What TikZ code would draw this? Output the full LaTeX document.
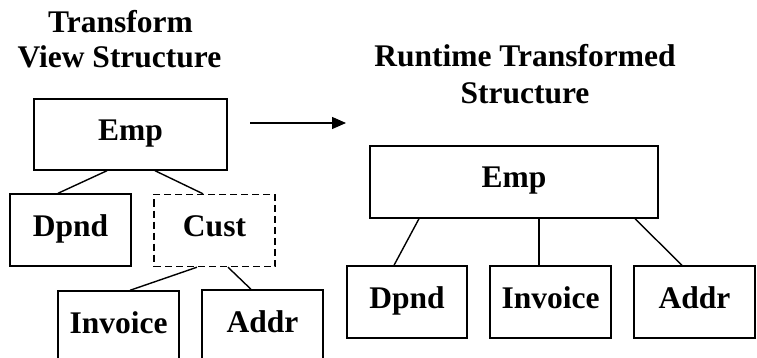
\documentclass[tikz,border=0pt]{standalone}
\usepackage{fontspec}
\setmainfont{Liberation Serif}
\usetikzlibrary{arrows.meta}
\begin{document}
\begin{tikzpicture}[x=1pt,y=-1pt,
  every node/.style={font=\fontsize{31.5}{35}\selectfont\bfseries},
  ent/.style={draw=black, line width=1.4pt, rectangle, inner sep=0pt,
    minimum height=72pt, text height=21pt, text depth=9pt},
  ttl/.style={anchor=base, inner sep=0pt},
  link/.style={line width=1.4pt}]
\useasboundingbox (0,0) rectangle (757,358);
\clip (0,0) rectangle (757,358);
% titles
\node[ttl] (t1a) at (120.5,33) {Transform};
\node[ttl] (t1b) at (119.5,68) {View Structure};
\node[ttl] (t2a) at (525,67) {Runtime Transformed};
\node[ttl] (t2b) at (525,104) {Structure};
% left tree
\node[ent, minimum width=193pt, minimum height=71pt] (emp1) at (130.5,134.5) {Emp};
\node[ent, minimum width=121pt] (dpnd1) at (70.5,230) {Dpnd};
\node[ent, minimum width=121pt, dashed, dash pattern=on 7pt off 4pt] (cust) at (214.5,230.5) {Cust};
\node[ent, minimum width=121pt] (inv1) at (118.5,327) {Invoice};
\node[ent, minimum width=121pt] (addr1) at (262.5,326) {Addr};
\draw[link] ([xshift=-23.5pt]emp1.south) -- ([xshift=-12.5pt]dpnd1.north);
\draw[link] ([xshift=24.5pt]emp1.south) -- ([xshift=-11.5pt]cust.north);
\draw[link] ([xshift=-17.5pt]cust.south) -- ([xshift=11.5pt]inv1.north);
\draw[link] ([xshift=13.5pt]cust.south) -- ([xshift=-11.5pt]addr1.north);
% arrow
\coordinate (a1) at (250,123);
\coordinate (a2) at (346,123);
\draw[line width=1.4pt, -{Triangle[length=14pt,width=12pt]}] (a1) -- (a2);
% right tree
\node[ent, minimum width=288pt] (emp2) at (514,182) {Emp};
\node[ent, minimum width=120pt] (dpnd2) at (407,302) {Dpnd};
\node[ent, minimum width=121pt] (inv2) at (550.5,302) {Invoice};
\node[ent, minimum width=121pt] (addr2) at (694.5,302) {Addr};
\draw[link] ([xshift=-95pt]emp2.south) -- ([xshift=-13pt]dpnd2.north);
\draw[link] ([xshift=25pt]emp2.south) -- ([xshift=-11.5pt]inv2.north);
\draw[link] ([xshift=121pt]emp2.south) -- ([xshift=-12.5pt]addr2.north);
\end{tikzpicture}
\end{document}
